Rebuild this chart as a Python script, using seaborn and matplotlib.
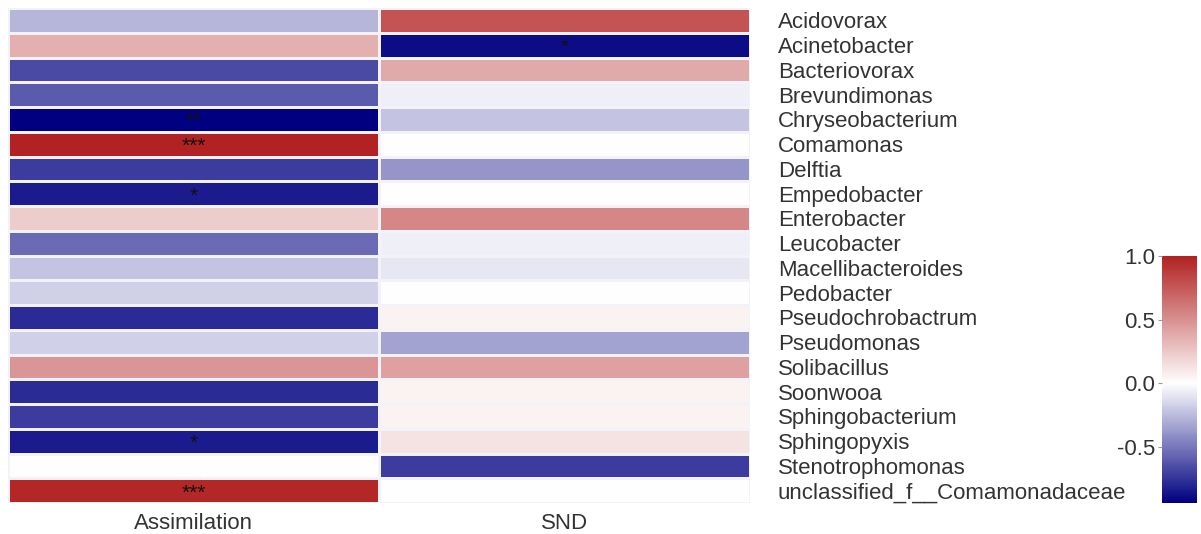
import numpy as np
import pandas as pd
import matplotlib
matplotlib.use("Agg")
import matplotlib.pyplot as plt
from matplotlib.colors import LinearSegmentedColormap
import seaborn as sns

genera = [
    "Acidovorax", "Acinetobacter", "Bacteriovorax", "Brevundimonas",
    "Chryseobacterium", "Comamonas", "Delftia", "Empedobacter",
    "Enterobacter", "Leucobacter", "Macellibacteroides", "Pedobacter",
    "Pseudochrobactrum", "Pseudomonas", "Solibacillus", "Soonwooa",
    "Sphingobacterium", "Sphingopyxis", "Stenotrophomonas",
    "unclassified_f__Comamonadaceae",
]
processes = ["Assimilation", "SND"]

assimilation = [-0.27, 0.36, -0.66, -0.60, -0.94, 1.00, -0.72, -0.84,
                0.23, -0.54, -0.22, -0.17, -0.78, -0.17, 0.47, -0.78,
                -0.72, -0.84, 0.00, 0.97]
snd = [0.77, -0.89, 0.38, -0.06, -0.22, 0.00, -0.39, 0.00,
       0.54, -0.06, -0.09, 0.00, 0.06, -0.34, 0.43, 0.06,
       0.06, 0.13, -0.72, 0.00]

assimilation_sig = ["", "", "", "", "**", "***", "", "*",
                    "", "", "", "", "", "", "", "",
                    "", "*", "", "***"]
snd_sig = ["", "*", "", "", "", "", "", "",
           "", "", "", "", "", "", "", "",
           "", "", "", ""]

corr = pd.DataFrame({"Assimilation": assimilation, "SND": snd}, index=genera)
stars = pd.DataFrame({"Assimilation": assimilation_sig, "SND": snd_sig}, index=genera)

vmin, vmax = -0.94, 1.0
mid = (0 - vmin) / (vmax - vmin)
cmap = LinearSegmentedColormap.from_list(
    "navy_white_firebrick",
    [(0.0, "#000080"), (mid, "#ffffff"), (1.0, "#b22222")],
)

plt.rcParams["font.family"] = ["Liberation Sans", "DejaVu Sans"]
text_color = "#333333"

fig = plt.figure(figsize=(12.01, 5.34), dpi=100)
ax = fig.add_axes([8 / 1201, 1 - 503 / 534, 742 / 1201, 495 / 534])
cax = fig.add_axes([1162 / 1201, 1 - 503 / 534, 35 / 1201, 247 / 534])

sns.heatmap(
    corr, ax=ax, cbar_ax=cax, cmap=cmap, vmin=vmin, vmax=vmax,
    linewidths=0.8, linecolor="#f2f2f8",
)

# significance marks, nudged down so the asterisk glyph sits mid-cell
for i, g in enumerate(genera):
    for j, p in enumerate(processes):
        s = stars.loc[g, p]
        if s:
            ax.text(j + 0.5, i + 0.82, s, ha="center", va="baseline",
                    fontsize=15, color="#111111")

ax.yaxis.tick_right()
ax.set_yticks(np.arange(len(genera)) + 0.5)
ax.set_yticklabels(genera, rotation=0, fontsize=16, color=text_color)
ax.set_xticklabels(processes, rotation=0, fontsize=16, color=text_color)
ax.tick_params(axis="y", length=0, pad=20)
ax.tick_params(axis="x", length=0, pad=7)
ax.set_xlabel("")
ax.set_ylabel("")

cax.yaxis.tick_left()
cax.set_yticks([-0.5, 0.0, 0.5, 1.0])
cax.set_yticklabels(["-0.5", "0.0", "0.5", "1.0"])
cax.tick_params(axis="y", length=3, width=0.8, color="#999999",
                labelsize=16, labelcolor=text_color, pad=2)
for spine in cax.spines.values():
    spine.set_visible(False)

fig.savefig("out.png", dpi=100, facecolor="white")
